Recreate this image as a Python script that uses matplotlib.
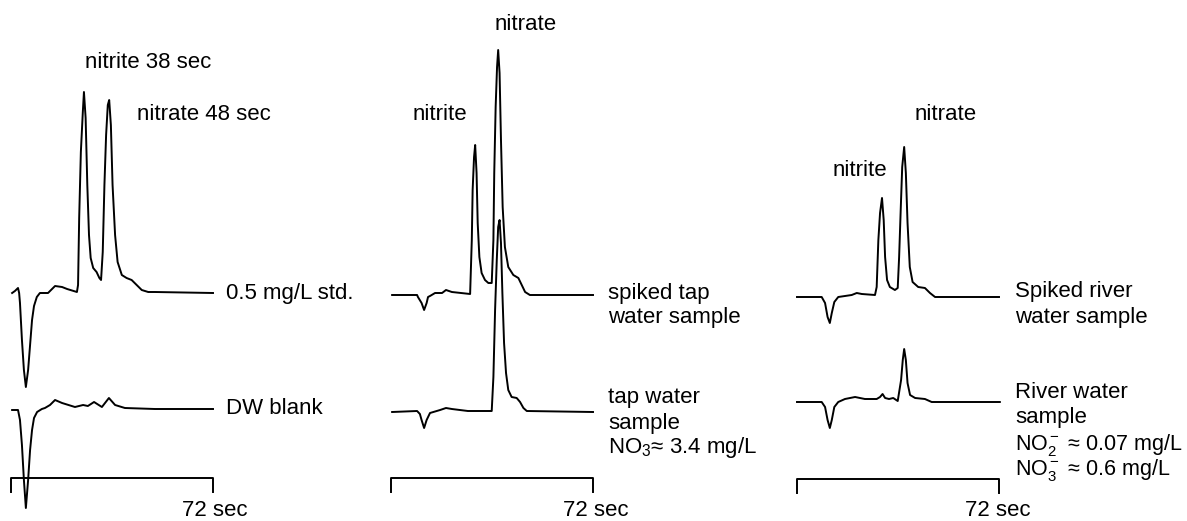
import matplotlib.pyplot as plt

plt.rcParams['font.family'] = ['Liberation Sans', 'DejaVu Sans']
plt.rcParams['mathtext.fontset'] = 'custom'
plt.rcParams['mathtext.rm'] = 'Liberation Sans'
plt.rcParams['mathtext.it'] = 'Liberation Sans'

# --- data: time (sec) and detector response (a.u.) ---

# panel 1: 0.5 mg/L standard and DW blank
std_t = [0.4, 1.4, 2.5, 2.9, 3.2, 3.9, 4.6, 5.3, 6.1, 6.8, 7.5, 8.2, 9.2, 10.3,
         13.2, 15.7, 18.2, 20.0, 23.5, 23.9, 24.3, 24.9, 25.6, 26.0, 26.6, 27.2,
         27.8, 28.4, 29.3, 30.5, 31.5, 32.1, 32.7, 33.3, 33.9, 34.5, 35.0, 35.6,
         36.2, 37.1, 38.0, 39.5, 41.2, 43.0, 44.8, 46.6, 48.9, 51.3, 72.0]
std_s = [0, 2, 5, 0, -10, -47, -77, -94, -77, -52, -27, -13, -4, 0,
         0, 7, 6, 4, 1, 8, 75, 141, 181, 201, 175, 108,
         58, 35, 25, 21, 15, 13, 41, 108, 158, 188, 193, 168,
         108, 58, 31, 18, 15, 13, 8, 3, 1, 1, 0]

blank_t = [0.4, 2.5, 3.2, 3.9, 4.6, 5.3, 6.1, 6.8, 7.5, 8.2, 9.3, 11.0, 12.1,
           13.9, 15.7, 18.2, 22.8, 25.7, 27.4, 29.6, 32.4, 34.9, 37.1, 40.6,
           51.3, 72.0]
blank_s = [-1, -1, -11, -36, -71, -99, -71, -41, -21, -9, -3, 0, 1,
           4, 9, 6, 2, 4, 3, 7, 2, 11, 4, 1,
           0, 0]

# panel 2: spiked tap water and tap water
sptap_t = [0.4, 9.3, 9.6, 10.9, 11.8, 12.7, 13.2, 13.9, 15.7, 18.2, 19.6, 21.7,
           28.2, 28.8, 29.1, 29.6, 30.0, 30.5, 30.9, 31.5, 32.3, 33.5, 34.7,
           35.9, 36.5, 36.8, 37.3, 37.8, 38.2, 38.7, 39.2, 39.8, 40.6, 41.8,
           43.6, 45.4, 46.6, 47.8, 49.5, 72.0]
sptap_s = [0, 0, -2, -8, -15, -8, -2, -1, 2, 2, 5, 3,
           1, 55, 105, 138, 150, 122, 72, 38, 22, 15, 12,
           12, 55, 122, 188, 228, 245, 222, 155, 88, 48, 28,
           20, 17, 10, 3, 0, 0]

tap_t = [0.4, 9.3, 10.3, 10.9, 11.8, 12.7, 13.9, 17.5, 19.6, 21.7, 27.4, 35.9,
         36.5, 37.1, 37.7, 38.2, 38.7, 39.2, 39.7, 40.3, 41.0, 41.8, 43.0,
         44.8, 46.0, 47.2, 48.4, 72.0]
tap_s = [-1, 0, -3, -9, -17, -9, -2, 1, 3, 2, 0, 0,
         34, 101, 151, 184, 191, 168, 118, 68, 38, 21, 14,
         13, 9, 3, 0, -1]

# panel 3: spiked river water and river water
sprv_t = [0.0, 8.8, 10.0, 10.9, 11.7, 12.4, 13.3, 14.7, 17.1, 19.5, 21.3, 23.1,
          27.8, 28.4, 29.0, 29.6, 30.3, 30.9, 31.4, 32.1, 33.1, 34.9, 35.9,
          36.4, 37.0, 37.5, 38.2, 38.8, 39.4, 40.2, 41.2, 43.2, 45.6, 47.4,
          49.2, 72.0]
sprv_s = [0, 0, -6, -20, -26, -16, -5, 0, 1, 2, 4, 3,
          2, 10, 57, 84, 99, 77, 40, 17, 10, 7, 9,
          40, 90, 130, 150, 124, 74, 30, 15, 10, 9, 4,
          0, 0]

river_t = [0.0, 8.8, 10.0, 10.9, 11.7, 12.4, 13.3, 14.7, 17.1, 20.7, 24.2, 28.4,
           29.6, 30.5, 31.4, 32.8, 34.3, 35.9, 37.1, 37.7, 38.2, 38.8, 39.4,
           40.3, 42.1, 45.6, 48.0, 72.3]
river_s = [0, 0, -5, -18, -26, -18, -5, 0, 3, 5, 3, 3,
           5, 8, 4, 3, 4, 1, 22, 42, 53, 42, 19,
           7, 4, 3, 0, 0]

scale_sec = 72

W, H = 1187, 521
fig = plt.figure(figsize=(W / 100, H / 100), dpi=100)

panel_x0 = [11, 391, 797]
panel_traces = [
    [(std_t, std_s, 228), (blank_t, blank_s, 112)],
    [(sptap_t, sptap_s, 226), (tap_t, tap_s, 110)],
    [(sprv_t, sprv_s, 224), (river_t, river_s, 119)],
]
bar_y = [43, 43, 42]

for x0, traces, by in zip(panel_x0, panel_traces, bar_y):
    ax = fig.add_axes([x0 / W, 0, 202 / W, 1])
    ax.set_xlim(0, scale_sec)
    ax.set_ylim(0, H)
    ax.axis('off')
    for t, s, off in traces:
        ax.plot(t, [v + off for v in s], color='black', lw=1.4, clip_on=False,
                solid_joinstyle='round')
    # 72 sec scale bar
    ax.plot([0, 0, scale_sec, scale_sec], [by - 14, by, by, by - 14],
            color='black', lw=1.4, clip_on=False)


def label(x, y, s, ha='left', size=16):
    fig.text(x / W, 1 - y / H, s, fontsize=size, ha=ha, va='center')


# panel 1 labels
label(85, 63, 'nitrite 38 sec')
label(137, 115, 'nitrate 48 sec')
label(226, 293, '0.5 mg/L std.')
label(226, 409, 'DW blank')
label(215, 511, '72 sec', ha='center')

# panel 2 labels
label(495, 25, 'nitrate')
label(413, 115, 'nitrite')
label(608, 293, 'spiked tap')
label(608, 318, 'water sample')
label(608, 397, 'tap water')
label(608, 423, 'sample')
label(608, 448, r'NO$_3$≈ 3.4 mg/L')
label(596, 511, '72 sec', ha='center')

# panel 3 labels
label(915, 115, 'nitrate')
label(833, 170, 'nitrite')
label(1015, 292, 'Spiked river')
label(1015, 318, 'water sample')
label(1015, 392, 'River water')
label(1015, 418, 'sample')
label(1015, 445, r'NO$_2^-$ ≈ 0.07 mg/L', size=15.5)
label(1015, 470, r'NO$_3^-$ ≈ 0.6 mg/L', size=15.5)
label(998, 511, '72 sec', ha='center')

fig.savefig('out.png', dpi=100)
